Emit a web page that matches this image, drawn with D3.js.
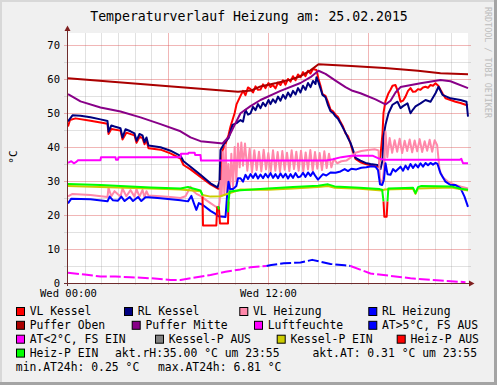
<!DOCTYPE html>
<html><head><meta charset="utf-8">
<script src="https://cdn.jsdelivr.net/npm/d3@7"></script>
<style>
html,body{margin:0;padding:0;background:#f0f0f0;}
svg{display:block;font-family:"DejaVu Sans Mono",monospace;}
</style></head><body>
<svg id="chart" width="497" height="385"></svg>
<script>
// ---------- DATA (hours since 00:00, °C) ----------
const titleText = "Temperaturverlauf Heizung am: 25.02.2015";
const yTicks = [0,10,20,30,40,50,60,70];
const xTicks = [0,12];
const xTickLabels = ["Wed 00:00","Wed 12:00"];

const vlKessel = [[0,46.0],[0.12,47.9],[0.45,48.4],[1.35,47.7],[2.37,46.8],[2.43,43.8],[2.6,45.3],[3.15,44.8],[3.27,42.2],[3.5,44.2],[3.99,43.4],[4.11,41.2],[4.3,43.0],[4.47,42.6],[4.59,40.8],[4.71,42.0],[4.83,39.6],[5.55,39.2],[6.15,38.1],[6.75,36.6],[6.93,34.7],[7.35,33.4],[7.95,31.2],[8.55,29.0],[8.97,27.8],[9.15,27.6],[9.27,39.0],[9.45,40.8],[9.63,43.5],[9.75,46.0],[9.87,47.9],[10.0,50.0],[10.11,52.5],[10.35,55.0],[10.5,56.5],[10.65,55.2],[10.8,57.5],[10.95,57.0],[11.1,56.0],[11.25,57.8],[11.4,56.8],[11.55,56.9],[11.7,58.4],[11.85,57.3],[12.03,58.8],[12.15,57.6],[12.3,58.2],[12.45,57.2],[12.6,58.9],[12.75,58.2],[12.9,59.6],[13.05,58.3],[13.2,60.0],[13.35,59.2],[13.5,60.8],[13.65,59.6],[13.8,61.3],[13.95,60.5],[14.1,62.0],[14.25,60.8],[14.4,62.4],[14.55,61.6],[14.7,62.9],[14.91,62.6],[15.03,60.0],[15.15,58.0],[15.27,55.5],[15.45,55.0],[15.6,53.2],[15.75,51.0],[15.9,50.5],[16.05,49.5],[16.2,48.8],[16.35,47.3],[16.5,46.0],[16.65,44.0],[16.8,43.2],[16.95,41.0],[17.07,39.0],[17.25,36.5],[17.55,35.5],[17.85,35.0],[18.15,34.6],[18.45,34.3],[18.63,34.2],[18.75,37.5],[18.87,44.0],[18.93,50.0],[19.05,53.5],[19.23,55.8],[19.35,56.8],[19.47,58.0],[19.65,58.2],[19.83,55.8],[19.95,53.3],[20.1,53.6],[20.25,54.8],[20.4,56.5],[20.55,57.3],[20.7,56.2],[20.85,56.3],[21.0,57.0],[21.15,56.8],[21.3,57.5],[21.45,57.7],[21.6,57.4],[21.75,58.2],[21.9,58.0],[22.05,58.7],[22.23,57.9],[22.35,56.8],[22.5,55.5],[22.65,54.3],[22.95,53.8],[23.25,53.3],[23.55,52.9],[23.85,52.4],[24,52.2]];

const rlKessel = [[0,47.5],[0.27,49.3],[0.75,49.2],[1.35,48.7],[1.95,48.1],[2.37,47.6],[2.43,44.5],[2.6,46.3],[2.79,46.0],[3.15,45.5],[3.27,42.8],[3.45,45.2],[3.75,44.6],[3.99,44.0],[4.11,41.8],[4.29,43.8],[4.47,43.4],[4.59,41.4],[4.71,42.8],[4.83,40.4],[5.55,39.9],[6.15,38.9],[6.75,37.4],[6.93,35.8],[7.35,34.2],[7.95,31.8],[8.55,29.3],[8.97,28.1],[9.09,29.8],[9.15,39.1],[9.27,40.1],[9.45,41.6],[9.63,42.6],[9.87,46.5],[10.11,47.0],[10.35,47.9],[10.5,47.4],[10.65,50.9],[10.8,49.5],[10.95,49.9],[11.1,51.8],[11.25,50.8],[11.4,52.6],[11.55,51.4],[11.7,53.0],[11.85,52.0],[12.03,53.8],[12.15,52.6],[12.3,54.0],[12.45,53.0],[12.6,54.8],[12.75,53.6],[12.9,55.3],[13.05,54.2],[13.2,56.0],[13.35,54.8],[13.5,56.5],[13.65,55.4],[13.8,57.3],[13.95,56.0],[14.1,58.0],[14.25,56.8],[14.4,58.8],[14.55,57.6],[14.7,59.4],[14.85,58.5],[14.91,60.5],[15.03,59.0],[15.15,57.2],[15.27,55.3],[15.45,54.6],[15.6,52.3],[15.75,50.5],[15.9,50.0],[16.05,49.0],[16.2,48.3],[16.35,47.0],[16.5,45.6],[16.65,44.2],[16.8,42.6],[16.95,41.2],[17.07,39.6],[17.25,36.8],[17.55,36.0],[17.85,35.3],[18.15,35.0],[18.45,34.8],[18.63,34.6],[18.75,33.5],[18.87,36.0],[18.93,43.0],[19.05,46.5],[19.23,49.9],[19.47,52.4],[19.77,53.3],[19.95,51.4],[20.1,52.0],[20.37,52.8],[20.55,49.9],[20.7,51.0],[20.85,51.9],[21.15,52.8],[21.45,53.8],[21.75,53.3],[22.05,55.8],[22.23,57.7],[22.47,55.3],[22.95,54.3],[23.55,53.8],[23.91,53.3],[24,48.9]];

const vlHeizung = [[0,25.5],[0.27,26.2],[1.35,25.9],[2.37,25.3],[2.43,28.0],[2.6,25.5],[2.79,27.0],[3.15,25.4],[3.27,27.8],[3.5,25.5],[3.75,27.3],[3.99,25.4],[4.11,27.6],[4.29,25.4],[4.47,27.4],[4.59,25.2],[4.71,27.0],[4.83,25.7],[5.55,25.5],[6.15,25.3],[6.75,25.0],[7.05,25.5],[7.35,28.3],[7.53,27.0],[7.71,26.2],[7.95,25.6],[8.25,24.5],[8.55,23.5],[8.85,22.5],[9.03,22.0],[9.1,24.0],[9.15,30.0],[9.22,25.5],[9.3,38.5],[9.38,26.0],[9.46,40.6],[9.54,25.5],[9.62,35.0],[9.7,26.5],[9.8,38.0],[9.9,28.0],[10.0,40.0],[10.1,30.0],[10.2,41.0],[10.3,34.0],[10.4,41.3],[10.5,34.5],[10.62,41.0],[10.76,33.0],[10.9,39.5],[11.04,32.5],[11.18,39.0],[11.32,33.2],[11.46,38.6],[11.6,32.8],[11.74,39.2],[11.88,33.4],[12.02,38.2],[12.16,32.6],[12.3,39.0],[12.44,33.0],[12.58,38.5],[12.72,32.7],[12.86,38.8],[13.0,33.3],[13.14,38.3],[13.28,32.9],[13.42,39.0],[13.56,33.5],[13.7,38.6],[13.84,33.0],[13.98,38.9],[14.12,32.8],[14.26,38.4],[14.4,33.4],[14.54,39.1],[14.68,33.0],[14.82,38.5],[14.96,33.6],[15.1,38.2],[15.24,33.2],[15.38,38.7],[15.52,33.8],[15.66,38.0],[15.8,34.0],[15.95,36.5],[16.15,35.2],[16.4,35.8],[16.7,36.0],[17.0,37.0],[17.25,38.3],[17.6,38.8],[18.0,39.1],[18.4,39.3],[18.63,39.0],[18.72,30.5],[18.85,29.0],[18.95,33.0],[19.05,44.5],[19.16,37.0],[19.3,42.6],[19.45,38.3],[19.6,42.0],[19.75,38.6],[19.9,42.4],[20.05,38.2],[20.2,41.8],[20.35,38.8],[20.5,42.2],[20.65,38.4],[20.8,41.9],[20.95,38.7],[21.1,42.3],[21.25,38.5],[21.4,41.7],[21.55,38.9],[21.7,42.1],[21.85,38.6],[22.0,42.0],[22.15,40.5],[22.3,33.0],[22.5,31.0],[22.8,29.8],[23.2,28.9],[23.6,28.3],[24,27.8]];

const rlHeizung = [[0,23.4],[0.2,24.8],[1.35,24.6],[2.37,24.0],[2.5,25.4],[2.7,24.3],[3.0,24.2],[3.2,25.4],[3.4,24.1],[3.7,25.3],[3.9,24.1],[4.2,25.3],[4.4,24.1],[4.65,25.2],[4.83,25.2],[5.55,24.9],[6.15,24.6],[6.75,24.3],[7.2,24.0],[7.4,25.6],[7.55,23.5],[7.7,21.5],[7.85,23.5],[8.07,23.0],[8.55,21.2],[8.85,20.3],[9.03,19.6],[9.45,19.4],[9.55,26.0],[9.63,29.8],[9.72,27.6],[9.9,27.6],[10.1,28.5],[10.2,30.8],[10.35,30.8],[10.5,29.8],[10.65,31.8],[10.8,30.6],[10.95,32.0],[11.1,30.9],[11.25,32.2],[11.4,30.7],[11.55,31.9],[11.7,30.8],[11.85,32.1],[12.0,31.0],[12.15,32.3],[12.3,30.9],[12.45,32.0],[12.6,30.8],[12.75,32.2],[12.9,31.0],[13.05,32.1],[13.2,30.7],[13.35,32.0],[13.5,30.9],[13.65,32.3],[13.8,31.1],[13.95,31.3],[14.1,32.4],[14.25,31.2],[14.4,32.5],[14.55,31.5],[14.7,32.6],[14.85,31.4],[15.0,30.4],[15.15,31.2],[15.3,32.0],[15.5,31.6],[15.75,32.5],[16.05,32.4],[16.35,32.8],[16.6,33.5],[16.8,32.9],[17.0,33.6],[17.3,33.4],[17.6,33.9],[17.9,34.0],[18.2,34.3],[18.45,34.2],[18.6,33.2],[18.72,29.0],[18.85,28.8],[18.95,30.3],[19.05,35.2],[19.17,32.0],[19.35,31.8],[19.5,33.5],[19.65,32.8],[19.95,34.2],[20.1,33.0],[20.25,34.5],[20.4,33.4],[20.55,35.0],[20.7,33.8],[20.85,34.9],[21.0,34.0],[21.15,35.2],[21.3,34.2],[21.45,35.3],[21.6,34.6],[21.75,35.3],[21.9,34.8],[22.05,35.3],[22.17,35.0],[22.35,32.3],[22.65,29.8],[22.95,28.8],[23.25,28.8],[23.55,27.9],[23.79,25.4],[24,22.4]];

const pufferOben = [[0,60.2],[10.2,56.2],[11,56.6],[11.55,57.8],[12.5,58.8],[13.35,59.8],[13.95,60.8],[14.55,62.5],[15.03,64.3],[17,63.8],[19,63.2],[21,62.4],[22.35,61.7],[24,61.4]];

const pufferMitte = [[0,55.5],[0.75,53.4],[1.95,51.6],[3.15,50.4],[4.35,48.7],[5.55,46.7],[6.75,44.6],[7.35,42.8],[7.95,41.7],[9.15,41.1],[9.27,41.0],[9.65,43.0],[10.0,46.5],[10.35,49.9],[10.95,52.0],[11.55,53.8],[12.75,56.5],[13.95,58.8],[14.55,60.5],[15.03,62.4],[15.45,61.5],[16.05,59.5],[16.65,57.6],[17.07,56.5],[17.55,55.8],[18.45,54.0],[19.05,52.5],[19.35,53.6],[19.65,56.0],[19.95,57.6],[21.15,58.7],[22.35,59.7],[22.95,59.3],[24,57.3]];

const luftfeuchte = [[0,35.3],[0.2,35.8],[0.35,35.2],[0.5,35.6],[0.6,36.1],[1.95,36.1],[1.98,37.0],[2.85,37.0],[2.88,36.2],[3.0,36.2],[3.03,37.0],[6.75,37.0],[6.78,38.0],[7.2,38.0],[7.25,38.3],[7.6,38.3],[7.63,37.6],[7.95,37.6],[7.98,36.0],[15.5,36.0],[15.9,36.4],[16.4,37.0],[17.0,37.4],[18.3,37.4],[18.6,36.7],[19.0,36.2],[23.5,36.2],[23.6,36.5],[23.7,35.2],[24,35.2]];

const aussenTemp = [[0,3.0],[1.0,2.5],[1.95,1.9],[2.85,1.9],[3.75,1.7],[4.95,1.4],[6.15,0.9],[6.75,0.9],[7.35,1.4],[8.55,2.35],[9.45,3.3],[10.35,4.0],[10.95,4.6],[11.9,5.0],[12.2,5.3],[12.95,5.8],[13.95,6.0],[14.65,6.8],[15.75,5.6],[16.6,5.2],[16.95,5.0],[18.15,2.8],[19.35,2.1],[20.55,1.4],[22.35,0.7],[23.85,0.25]];

const kesselPEin = [[0,28.5],[1.95,28.2],[4.95,27.8],[6.75,27.5],[7.95,27.0],[8.07,25.9],[8.55,25.4],[9.15,25.5],[9.63,26.3],[10.35,27.5],[12,27.4],[13.5,27.8],[15.0,28.2],[15.6,28.5],[16.0,28.0],[17.5,27.7],[18.85,27.2],[19.0,27.5],[20.7,27.7],[20.85,26.2],[21.0,27.8],[23.0,28.1],[23.5,27.6],[24,27.2]];

const heizPAus = [[8.07,25.4],[8.1,16.9],[8.9,16.9],[8.95,22.3],[9.05,22.3],[9.12,17.5],[9.6,17.5],[9.63,24.0],null,[18.93,24.0],[18.98,19.5],[19.12,19.5],[19.17,24.0]];

const heizPEin = [[0,29.1],[1.95,28.8],[4.95,28.1],[6.75,27.8],[7.2,28.2],[7.5,27.8],[7.95,27.2],[8.07,25.8],null,[9.0,22.6],[9.06,21.6],null,[9.6,20.8],[9.63,23.9],[9.7,26.9],[10.35,27.3],[12.0,27.8],[13.5,28.2],[15.0,28.6],[15.6,29.0],[16.0,28.4],[17.5,28.0],[18.7,27.6],[18.85,27.4],[18.93,24.0],null,[19.17,24.0],[19.22,27.8],[20.7,28.0],[20.85,26.4],[21.0,28.2],[21.2,28.5],[23.0,28.4],[23.5,27.8],[24,27.4]];

const legendLabels = ["VL Kessel","RL Kessel","VL Heizung","RL Heizung","Puffer Oben","Puffer Mitte","Luftfeuchte","AT>5°C, FS AUS","AT<2°C, FS EIN","Kessel-P AUS","Kessel-P EIN","Heiz-P AUS","Heiz-P EIN"];
const legendColors = ["#ff0000","#000080","#ff88aa","#0000ff","#aa0000","#880088","#ff00ff","#0000ff","#ff00ff","#808080","#cccc00","#ff0000","#00ff00"];
const infoTexts = ["akt.rH:35.00 °C um 23:55","akt.AT: 0.31 °C um 23:55","min.AT24h: 0.25 °C","max.AT24h: 6.81 °C"];

// ---------- LAYOUT ----------
const W = 497, H = 385;
const svg = d3.select("#chart");
const x = d3.scaleLinear().domain([0,24]).range([68,468]);
const y = d3.scaleLinear().domain([0,73.5]).range([283,33]);

svg.append("rect").attr("width",W).attr("height",H).attr("fill","#f0f0f0");
// frame shading
svg.append("rect").attr("x",0).attr("y",0).attr("width",W).attr("height",2).attr("fill","#d8d8d8");
svg.append("rect").attr("x",0).attr("y",0).attr("width",2).attr("height",H).attr("fill","#d8d8d8");
svg.append("rect").attr("x",W-3).attr("y",0).attr("width",3).attr("height",H).attr("fill","#a4a4a4");
svg.append("rect").attr("x",0).attr("y",H-3).attr("width",W).attr("height",3).attr("fill","#a4a4a4");

// canvas
svg.append("rect").attr("x",x(0)).attr("y",y(73.5)).attr("width",x(24)-x(0)).attr("height",y(0)-y(73.5)).attr("fill","#ffffff");

// grid
const grid = svg.append("g").attr("shape-rendering","crispEdges");
d3.range(1,24).forEach(h=>{
  grid.append("line").attr("x1",Math.round(x(h))+0.5).attr("x2",Math.round(x(h))+0.5)
    .attr("y1",y(73.5)).attr("y2",y(0)+2)
    .attr("stroke", h%6===0 ? "rgba(222,81,81,0.42)" : "rgba(143,143,143,0.27)").attr("stroke-width",1);
});
d3.range(5,71,5).forEach(v=>{
  grid.append("line").attr("x1",64).attr("x2",471)
    .attr("y1",Math.round(y(v))+0.5).attr("y2",Math.round(y(v))+0.5)
    .attr("stroke", v%10===0 ? "rgba(222,81,81,0.42)" : "rgba(143,143,143,0.27)").attr("stroke-width",1);
});

// series
const line = d3.line().defined(d=>d!=null).x(d=>x(d[0])).y(d=>y(d[1]));
const plot = svg.append("g").attr("fill","none").attr("stroke-width",2).attr("stroke-linejoin","round").attr("stroke-linecap","butt");
function draw(data,color,dash){
  const p = plot.append("path").attr("d",line(data)).attr("stroke",color);
  if(dash) p.attr("stroke-dasharray",dash);
}
draw(vlKessel,legendColors[0]);
draw(rlKessel,legendColors[1]);
draw(vlHeizung,legendColors[2]);
draw(rlHeizung,legendColors[3]);
draw(pufferOben,legendColors[4]);
draw(pufferMitte,legendColors[5]);
draw(luftfeuchte,legendColors[6]);
// outside temperature, split by threshold
const atHigh = aussenTemp.map(d=>d[1]>=5?d:null);
const atLow = aussenTemp.map(d=>d[1]<=5?d:null);
draw(atHigh,legendColors[7],"11,3");
draw(atLow,legendColors[8],"11,3");
draw(kesselPEin,legendColors[10]);
draw(heizPAus,legendColors[11]);
draw(heizPEin,legendColors[12]);

// axes
const axCol = "#6e2c2c";
svg.append("line").attr("x1",67.5).attr("x2",67.5).attr("y1",286).attr("y2",30).attr("stroke",axCol).attr("stroke-width",1);
svg.append("line").attr("x1",64).attr("x2",470).attr("y1",283.5).attr("y2",283.5).attr("stroke",axCol).attr("stroke-width",1);
svg.append("path").attr("d","M64.5,31L67.5,25.5L70.5,31Z").attr("fill","#7f1f1f");
svg.append("path").attr("d","M469,280.5L474.5,283.5L469,286.5Z").attr("fill","#7f1f1f");

const yAxis = d3.axisLeft(y).tickValues(yTicks).tickSize(0).tickPadding(8).tickFormat(d3.format("d"));
const gy = svg.append("g").attr("transform","translate(68,0)").call(yAxis);
gy.select(".domain").remove();
gy.selectAll("text").attr("font-family","DejaVu Sans Mono").attr("font-size",10.5).attr("fill","#000");

const xAxis = d3.axisBottom(x).tickValues(xTicks).tickSize(0).tickPadding(7).tickFormat((d,i)=>xTickLabels[i]);
const gx = svg.append("g").attr("transform","translate(0,283)").call(xAxis);
gx.select(".domain").remove();
gx.selectAll("text").attr("font-family","DejaVu Sans Mono").attr("font-size",10.5).attr("fill","#000");

// title
svg.append("text").attr("x",249).attr("y",20.5).attr("text-anchor","middle")
  .attr("font-size",13.2).attr("fill","#000").text(titleText);
// y unit
svg.append("text").attr("transform","translate(16.5,157) rotate(-90)").attr("text-anchor","middle")
  .attr("font-size",11).attr("fill","#000").text("°C");
// watermark
svg.append("text").attr("transform","translate(484.5,7) rotate(90)").attr("text-anchor","start")
  .attr("font-size",8.4).attr("fill","#bdbdbd").text("RRDTOOL / TOBI OETIKER");

// legend
const rowY = [315,328.8,342.7,356.6,370.5];
const swatchX = [16,124,239.3,368.3, 16,131.7,254,368.3, 16,155,276.7,396.7, 16];
const swatchRow = [0,0,0,0,1,1,1,1,2,2,2,2,3];
const lg = svg.append("g").attr("font-size",11.4).attr("fill","#000");
legendLabels.forEach((lab,i)=>{
  const sx = swatchX[i], by = rowY[swatchRow[i]];
  lg.append("rect").attr("x",sx+0.5).attr("y",by-7.5).attr("width",8).attr("height",8)
    .attr("fill",legendColors[i]).attr("stroke","#000").attr("stroke-width",1);
  lg.append("text").attr("x",sx+13.7).attr("y",by).text(lab);
});
const infoX = [115,312.5,15.8,158];
const infoRow = [3,3,4,4];
infoTexts.forEach((t,i)=>{
  lg.append("text").attr("x",infoX[i]).attr("y",rowY[infoRow[i]]).text(t);
});
</script>
</body></html>
